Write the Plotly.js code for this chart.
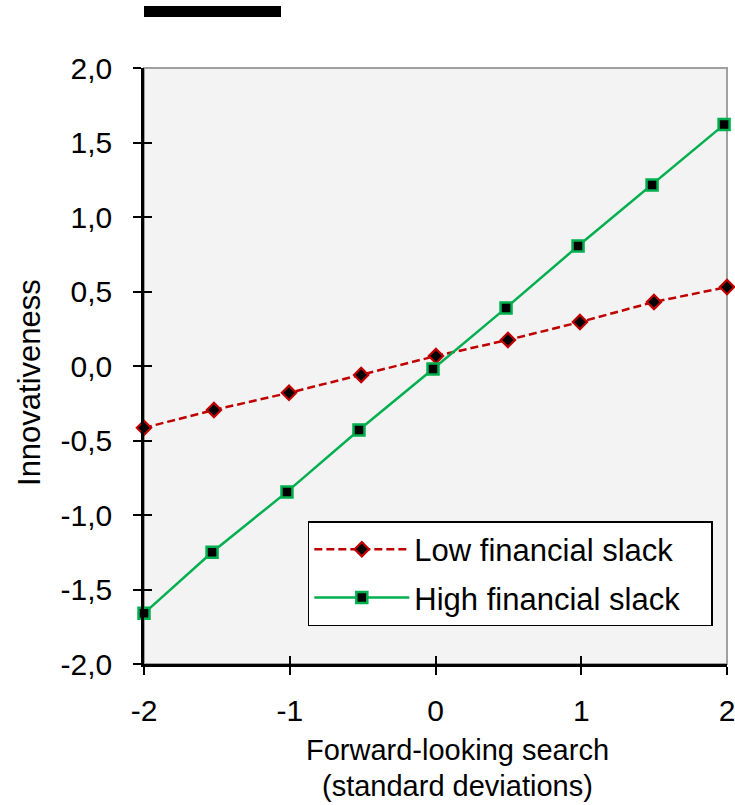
<!DOCTYPE html>
<html><head><meta charset="utf-8">
<script src="https://cdn.plot.ly/plotly-3.0.1.min.js"></script>
<style>html,body{margin:0;padding:0;background:#fff}</style>
</head><body>
<div id="chart" style="width:735px;height:805px"></div>
<script>
var lowX = [-2.0, -1.52, -1.005, -0.51, 0.003, 0.497, 0.991, 1.499, 2.0];
var lowY = [-0.415, -0.295, -0.18, -0.06, 0.067, 0.175, 0.295, 0.43, 0.53];
var highX = [-2.0, -1.533, -1.019, -0.525, -0.017, 0.484, 0.978, 1.486, 1.98];
var highY = [-1.66, -1.25, -0.845, -0.43, -0.02, 0.39, 0.805, 1.215, 1.62];
var yTickVals = [-2, -1.5, -1, -0.5, 0, 0.5, 1, 1.5, 2];
var yTickText = ['-2,0', '-1,5', '-1,0', '-0,5', '0,0', '0,5', '1,0', '1,5', '2,0'];
var xTickVals = [-2, -1, 0, 1, 2];
var xTickText = ['-2', '-1', '0', '1', '2'];
var xTitle1 = 'Forward-looking search';
var xTitle2 = '(standard deviations)';
var yTitle = 'Innovativeness';
var seriesNames = ['Low financial slack', 'High financial slack'];

var F = 'Liberation Sans, Arial, sans-serif';
var PAD = '\u00a0\u00a0\u00a0';
var traces = [
  {x: lowX, y: lowY, mode: 'lines+markers', name: seriesNames[0], legendgroup: 'a',
   cliponaxis: false,
   line: {color: '#c00000', width: 2.5, dash: '8px,4px'},
   marker: {symbol: 'diamond', size: 11, color: '#000', line: {color: '#c00000', width: 2.2}}},
  {x: highX, y: highY, mode: 'lines+markers', name: seriesNames[1] + PAD, legendgroup: 'b',
   cliponaxis: false,
   line: {color: '#00b050', width: 2.5},
   marker: {symbol: 'square', size: 11, color: '#000', line: {color: '#00b050', width: 2.5}}},
  {x: [0], y: [0], xaxis: 'x2', yaxis: 'y2', mode: 'markers', showlegend: false,
   hoverinfo: 'skip', marker: {opacity: 0}}
];
var layout = {
  width: 735, height: 805,
  margin: {l: 144, r: 8, t: 68, b: 141},
  paper_bgcolor: '#fff', plot_bgcolor: '#f3f3f3',
  font: {family: F, size: 30, color: '#000'},
  showlegend: true,
  legend: {x: 0.281, y: 0.2399, xanchor: 'left', yanchor: 'top',
    bgcolor: '#fff', bordercolor: '#000', borderwidth: 1.5,
    font: {family: F, size: 31, color: '#000'}, itemwidth: 95, tracegroupgap: 5},
  xaxis: {range: [-2, 2], tickvals: xTickVals, ticktext: xTickText,
    showgrid: false, zeroline: false, showline: true, linecolor: '#000', linewidth: 2.5,
    ticks: 'outside', ticklen: 8, tickwidth: 2, tickcolor: '#000', ticklabelstandoff: 10,
    ticklabeloverflow: 'allow', tickfont: {family: F, size: 30}},
  yaxis: {range: [-2, 2], tickvals: yTickVals, ticktext: yTickText,
    showgrid: false, zeroline: false, showline: true, linecolor: '#000', linewidth: 2.5,
    ticks: 'outside', ticklen: 8, tickwidth: 2, tickcolor: '#000', ticklabelstandoff: 15,
    ticklabeloverflow: 'allow', tickfont: {family: F, size: 30}},
  xaxis2: {range: [-2, 2], overlaying: 'x', tickvals: xTickVals, showticklabels: false,
    showgrid: false, zeroline: false, showline: false, ticks: 'inside', ticklen: 8, tickwidth: 2, tickcolor: '#000'},
  yaxis2: {range: [-2, 2], overlaying: 'y', tickvals: yTickVals, showticklabels: false,
    showgrid: false, zeroline: false, showline: false, ticks: 'inside', ticklen: 8, tickwidth: 2, tickcolor: '#000'},
  annotations: [
    {text: xTitle1, xref: 'paper', yref: 'paper', x: 0.537, y: -86/596, xanchor: 'center', yanchor: 'middle',
     showarrow: false, font: {family: F, size: 29, color: '#000'}},
    {text: xTitle2, xref: 'paper', yref: 'paper', x: 0.537, y: -122/596, xanchor: 'center', yanchor: 'middle',
     showarrow: false, font: {family: F, size: 29, color: '#000'}},
    {text: yTitle, xref: 'paper', yref: 'paper', x: -114/583, y: 0.4715, xanchor: 'center', yanchor: 'middle',
     textangle: -90, showarrow: false, font: {family: F, size: 31, color: '#000'}}
  ],
  shapes: [
    {type: 'rect', xref: 'paper', yref: 'paper', x0: 0, x1: 1, y0: 0, y1: 1,
     line: {color: '#a0a0a0', width: 2}, layer: 'below'},
    {type: 'rect', xref: 'paper', yref: 'paper', x0: 0, x1: 137/583, y0: 1 + 51/596, y1: 1 + 62/596,
     fillcolor: '#000', line: {width: 0}}
  ]
};
Plotly.newPlot('chart', traces, layout, {displayModeBar: false, responsive: false});
</script>
</body></html>
